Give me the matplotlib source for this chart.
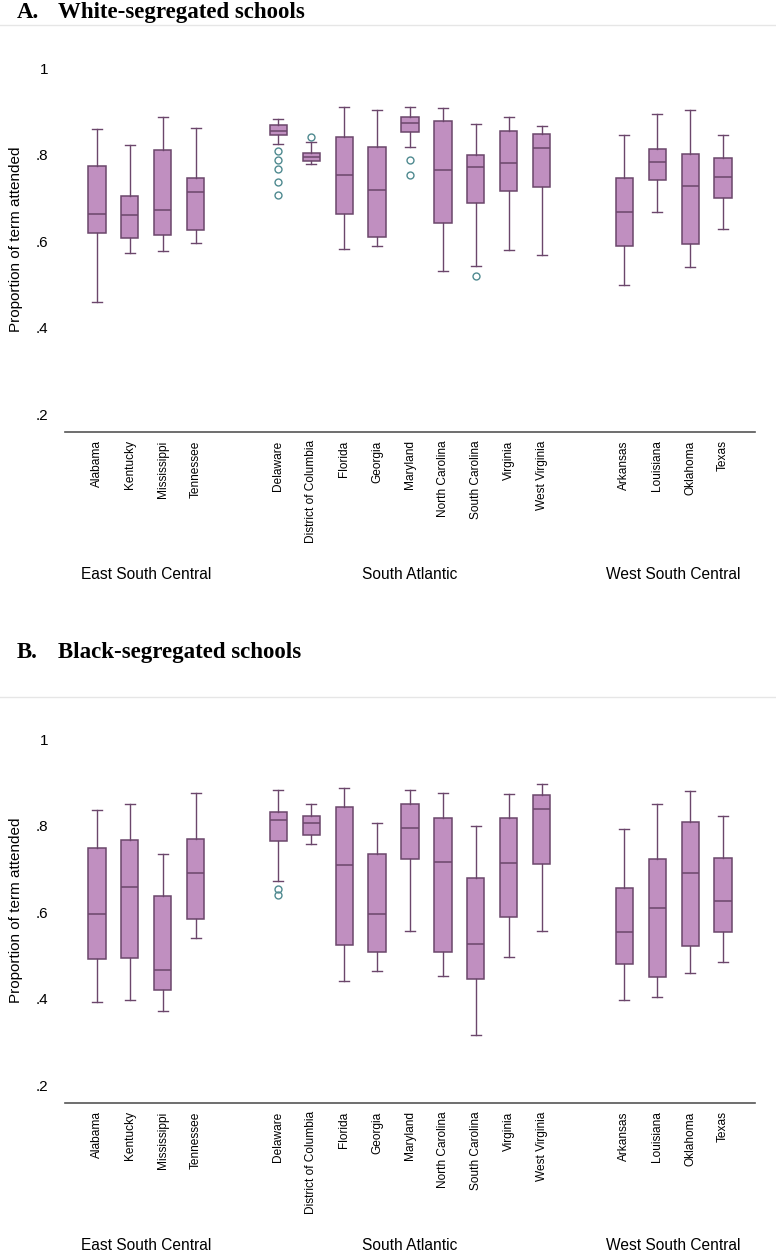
import numpy as np
import matplotlib
matplotlib.use('Agg')
import matplotlib.pyplot as plt

# estados y regiones
states = ['Alabama', 'Kentucky', 'Mississippi', 'Tennessee',
          'Delaware', 'District of Columbia', 'Florida', 'Georgia', 'Maryland',
          'North Carolina', 'South Carolina', 'Virginia', 'West Virginia',
          'Arkansas', 'Louisiana', 'Oklahoma', 'Texas']
regions = ['East South Central', 'South Atlantic', 'West South Central']
region_sizes = [4, 9, 4]

# Panel A: escuelas blancas
white_lo = [0.460, 0.572, 0.577, 0.595, 0.824, 0.777, 0.581, 0.588, 0.818,
            0.531, 0.543, 0.580, 0.568, 0.498, 0.667, 0.541, 0.628]
white_q1 = [0.618, 0.607, 0.614, 0.626, 0.846, 0.784, 0.662, 0.610, 0.852,
            0.641, 0.689, 0.715, 0.726, 0.588, 0.742, 0.592, 0.699]
white_med = [0.662, 0.659, 0.671, 0.713, 0.855, 0.795, 0.752, 0.717, 0.873,
             0.765, 0.770, 0.781, 0.816, 0.667, 0.783, 0.728, 0.747]
white_q3 = [0.774, 0.705, 0.810, 0.746, 0.868, 0.804, 0.840, 0.817, 0.886,
            0.877, 0.798, 0.854, 0.847, 0.745, 0.813, 0.802, 0.793]
white_hi = [0.859, 0.822, 0.886, 0.862, 0.883, 0.830, 0.911, 0.903, 0.911,
            0.907, 0.871, 0.887, 0.866, 0.846, 0.893, 0.904, 0.846]
white_out = {'Delaware': [0.807, 0.787, 0.766, 0.736, 0.706],
             'District of Columbia': [0.840],
             'Maryland': [0.787, 0.753],
             'South Carolina': [0.520]}

# Panel B: escuelas negras
black_lo = [0.393, 0.397, 0.372, 0.540, 0.672, 0.759, 0.440, 0.464, 0.556,
            0.453, 0.315, 0.496, 0.556, 0.398, 0.403, 0.460, 0.485]
black_q1 = [0.491, 0.495, 0.420, 0.585, 0.765, 0.780, 0.524, 0.507, 0.724,
            0.508, 0.445, 0.588, 0.711, 0.481, 0.450, 0.523, 0.554]
black_med = [0.595, 0.658, 0.467, 0.692, 0.813, 0.807, 0.709, 0.597, 0.795,
             0.716, 0.526, 0.713, 0.840, 0.554, 0.610, 0.692, 0.625]
black_q3 = [0.748, 0.768, 0.637, 0.770, 0.831, 0.823, 0.843, 0.734, 0.851,
            0.819, 0.679, 0.819, 0.872, 0.657, 0.724, 0.808, 0.725]
black_hi = [0.837, 0.850, 0.735, 0.877, 0.882, 0.850, 0.887, 0.806, 0.883,
            0.877, 0.800, 0.873, 0.898, 0.793, 0.851, 0.881, 0.822]
black_out = {'Delaware': [0.655, 0.641]}

# posiciones con separacion entre regiones
pos = []
start = 0.0
for n in region_sizes:
    pos += [start + i for i in range(n)]
    start += n - 1 + 2.5

fill = '#c08fc0'
edge = '#6b466b'
out_col = '#4f8a90'


def panel(ax, lo, q1, med, q3, hi, outl):
    stats = []
    for i, s in enumerate(states):
        stats.append(dict(whislo=lo[i], q1=q1[i], med=med[i], q3=q3[i],
                          whishi=hi[i], fliers=outl.get(s, [])))
    ax.bxp(stats, positions=pos, widths=0.52, patch_artist=True,
           boxprops=dict(facecolor=fill, edgecolor=edge, linewidth=1.1),
           medianprops=dict(color=edge, linewidth=1.1),
           whiskerprops=dict(color=edge, linewidth=1.0),
           capprops=dict(color=edge, linewidth=1.0),
           capwidths=0.32,
           flierprops=dict(marker='o', markerfacecolor='none',
                           markeredgecolor=out_col, markersize=5,
                           markeredgewidth=1.0))
    ax.set_xlim(-0.97, 19.97)
    ax.set_ylim(0.1584, 1.0509)
    ax.set_yticks([0.2, 0.4, 0.6, 0.8, 1.0])
    ax.set_yticklabels(['.2', '.4', '.6', '.8', '1'], fontsize=11)
    ax.set_xticks(pos)
    ax.set_xticklabels(states, rotation=90, fontsize=8.6, va='top')
    ax.tick_params(axis='y', length=0, pad=12)
    ax.tick_params(axis='x', length=0, pad=6)
    for sp in ['top', 'right', 'left']:
        ax.spines[sp].set_visible(False)
    ax.spines['bottom'].set_color('#555555')
    ax.spines['bottom'].set_linewidth(1.2)
    ax.set_ylabel('Proportion of term attended', fontsize=11, labelpad=9)
    # nombres de region
    k = 0
    for r, n in zip(regions, region_sizes):
        xc = (pos[k] + pos[k + n - 1]) / 2
        ax.text(xc, -0.369, r, transform=ax.get_xaxis_transform(),
                ha='center', va='center', fontsize=11.2)
        k += n


plt.rcParams['font.family'] = ['Liberation Sans', 'DejaVu Sans']
fig = plt.figure(figsize=(7.76, 12.54), dpi=100)

W, H = 776, 1254
axA = fig.add_axes([65 / W, 1 - 432 / H, 690 / W, (432 - 46) / H])
panel(axA, white_lo, white_q1, white_med, white_q3, white_hi, white_out)
axB = fig.add_axes([65 / W, 1 - 1103 / H, 690 / W, (1103 - 717.5) / H])
panel(axB, black_lo, black_q1, black_med, black_q3, black_hi, black_out)

# titulos
for ytxt, yline, lab, name in [(18, 25, 'A.', 'White-segregated schools'),
                               (658, 697, 'B.', 'Black-segregated schools')]:
    fig.text(17 / W, 1 - ytxt / H, lab, fontsize=16.5, fontweight='bold',
             family='Liberation Serif', va='baseline', ha='left')
    fig.text(58 / W, 1 - ytxt / H, name, fontsize=16.5, fontweight='bold',
             family='Liberation Serif', va='baseline', ha='left')
    fig.add_artist(plt.Line2D([0, 1], [1 - yline / H, 1 - yline / H],
                              color='#e6e6e6', linewidth=1.0,
                              transform=fig.transFigure))

fig.savefig('out.png', dpi=100)
